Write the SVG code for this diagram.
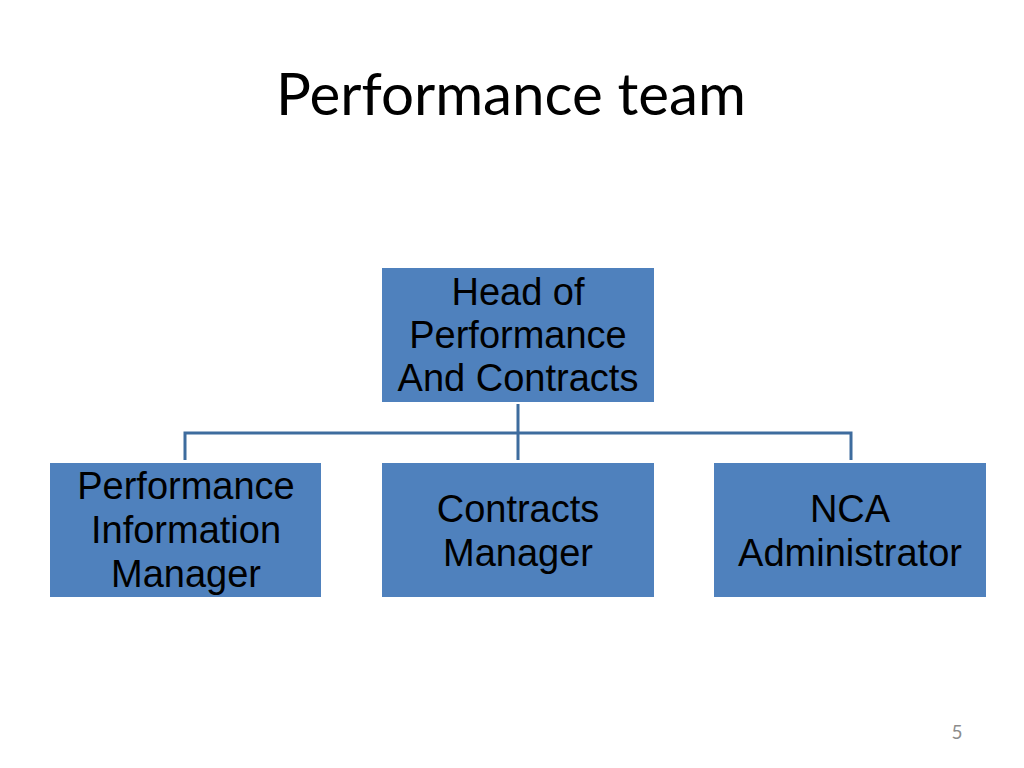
<svg xmlns="http://www.w3.org/2000/svg" width="1024" height="768" viewBox="0 0 1024 768">
<style>
.box{fill:#4F81BD;}
.lbl{font-family:"Liberation Sans",Arial,sans-serif;font-size:38px;fill:#000;text-anchor:middle;}
.conn{stroke:#3E6C9E;stroke-width:3;fill:none;}
</style>
<rect width="1024" height="768" fill="#fff"/>
<text x="511" y="115" font-family="Lato,'Open Sans',sans-serif" font-size="58" text-anchor="middle" textLength="470" lengthAdjust="spacingAndGlyphs" fill="#000">Performance team</text>
<g id="connectors">
<path class="conn" d="M518 404 V460 M185 460 V433 H851 V460"/>
</g>
<g id="head">
<rect class="box" x="382" y="268" width="272" height="134"/>
<text class="lbl" x="518" y="305">Head of</text>
<text class="lbl" x="518" y="348">Performance</text>
<text class="lbl" x="518" y="391">And Contracts</text>
</g>
<g id="pim">
<rect class="box" x="50" y="463" width="271" height="134"/>
<text class="lbl" x="186" y="499">Performance</text>
<text class="lbl" x="186" y="543">Information</text>
<text class="lbl" x="186" y="587">Manager</text>
</g>
<g id="cm">
<rect class="box" x="382" y="463" width="272" height="134"/>
<text class="lbl" x="518" y="522">Contracts</text>
<text class="lbl" x="518" y="566">Manager</text>
</g>
<g id="nca">
<rect class="box" x="714" y="463" width="272" height="134"/>
<text class="lbl" x="850" y="522">NCA</text>
<text class="lbl" x="850" y="566">Administrator</text>
</g>
<text x="957" y="739" font-family="Lato,'Open Sans',sans-serif" font-size="19" text-anchor="middle" fill="#8C8C8C">5</text>
</svg>
